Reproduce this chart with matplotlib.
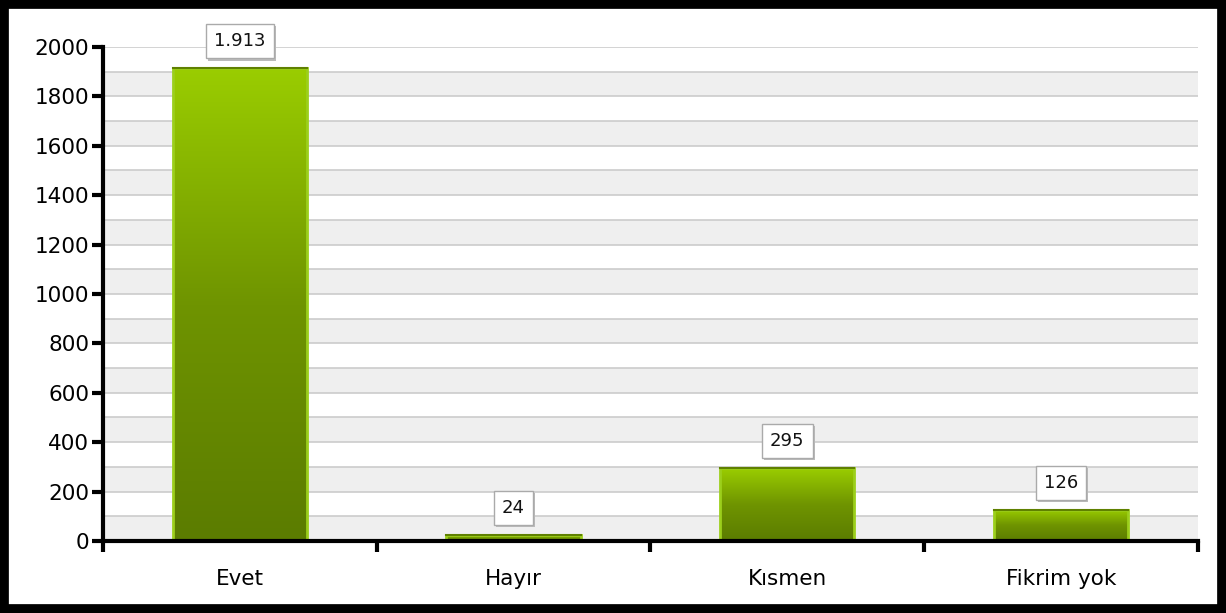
import matplotlib.pyplot as plt
import numpy as np
from matplotlib.colors import LinearSegmentedColormap
from matplotlib.patches import Rectangle

categories = ['Evet', 'Hayır', 'Kısmen', 'Fikrim yok']
values = [1913, 24, 295, 126]
value_labels = ['1.913', '24', '295', '126']

plt.rcParams['font.family'] = ['DejaVu Sans']

fig = plt.figure(figsize=(12.26, 6.13), dpi=100)
ax = fig.add_axes([0.084, 0.1175, 0.893, 0.806])

# alternating bands + grid
for y0 in range(0, 2000, 200):
    ax.axhspan(y0, y0 + 100, color='#efefef', zorder=0, lw=0)
for y in range(100, 2001, 100):
    ax.axhline(y, color='#cccccc', lw=1.2, zorder=1)

cmap = LinearSegmentedColormap.from_list('g', ['#5b7c00', '#6f9400', '#9acd00'])
grad = np.linspace(0, 1, 256).reshape(-1, 1)
x = np.arange(len(categories))
w = 0.49
for xi, v, lab in zip(x, values, value_labels):
    ax.imshow(grad, extent=[xi - w / 2, xi + w / 2, 0, v], origin='lower',
              aspect='auto', cmap=cmap, zorder=2)
    ax.add_patch(Rectangle((xi - w / 2, 0), w, v, fill=False,
                           edgecolor='#9ccf1c', lw=2, zorder=3))
    ax.plot([xi - w / 2, xi + w / 2], [v, v], color='#5f8000', lw=1.5, zorder=3)
    ax.annotate(lab, xy=(xi, v), xytext=(1.5, 11.5), textcoords='offset points',
                ha='center', va='bottom', fontsize=13, color='none',
                bbox=dict(boxstyle='square,pad=0.45', fc='#bbbbbb', ec='none'), zorder=4)
    ax.annotate(lab, xy=(xi, v), xytext=(0, 13), textcoords='offset points',
                ha='center', va='bottom', fontsize=13, color='#111111',
                bbox=dict(boxstyle='square,pad=0.45', fc='white', ec='#aaaaaa', lw=1), zorder=5)

ax.set_xlim(-0.5, len(categories) - 0.5)
ax.set_ylim(0, 2000)
ax.set_yticks(np.arange(0, 2001, 200))
ax.tick_params(axis='y', labelsize=15.5, width=3, length=8, direction='out', pad=2)
ax.set_xticks(x)
ax.set_xticklabels(categories, fontsize=15.5)
ax.tick_params(axis='x', length=0, pad=20)
ax.set_xticks(np.arange(-0.5, len(categories)), minor=True)
ax.tick_params(axis='x', which='minor', length=8, width=3, direction='out')

for s in ['top', 'right']:
    ax.spines[s].set_visible(False)
for s in ['left', 'bottom']:
    ax.spines[s].set_linewidth(3)
    ax.spines[s].set_zorder(6)

fig.patches.append(Rectangle((0.003, 0.006), 0.994, 0.988, transform=fig.transFigure,
                             fill=False, edgecolor='black', lw=7))

plt.savefig('out.png', dpi=100)
